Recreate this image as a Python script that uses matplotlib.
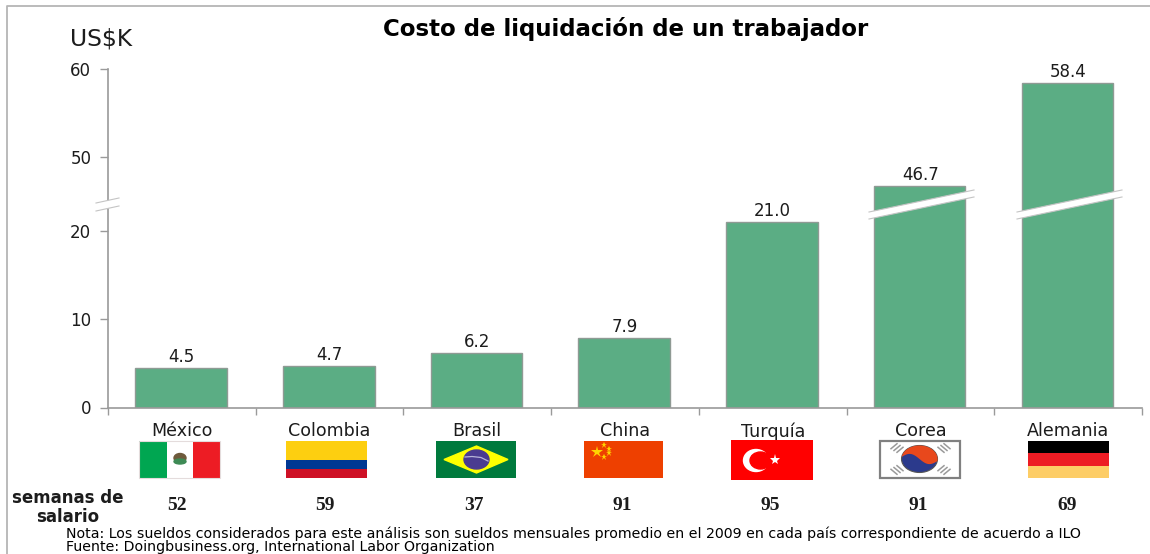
import numpy as np
import matplotlib
matplotlib.use('Agg')
import matplotlib.pyplot as plt
from matplotlib.patches import Rectangle, Polygon, Ellipse

plt.rcParams['font.family'] = ['DejaVu Sans']

# data
paises = ['México', 'Colombia', 'Brasil', 'China', 'Turquía', 'Corea', 'Alemania']
costo = [4.5, 4.7, 6.2, 7.9, 21.0, 46.7, 58.4]
semanas = [52, 59, 37, 91, 95, 91, 69]
y_ticks = [0, 10, 20, 50, 60]

W, H = 1150, 554
GREEN = '#5bad84'
GRAY = '#9a9a9a'
TXT = '#1c1c1c'


# y axis is cut: same slope below and above, the stretch in between collapses
def fwd(y):
    return np.interp(y, [0, 21.5, 43.5, 60], [0, 21.5, 21.9, 38.4])


def inv(y):
    return np.interp(y, [0, 21.5, 21.9, 38.4], [0, 21.5, 43.5, 60])


fig = plt.figure(figsize=(W / 100, H / 100), dpi=100, facecolor='white')
ax = fig.add_axes([108 / W, 1 - 407.5 / H, (1142 - 108) / W, (407.5 - 69) / H])
ax.set_yscale('function', functions=(fwd, inv))
ax.set_ylim(0, 60)
ax.set_xlim(-0.5, 6.5)

x = np.arange(len(paises))
bars = ax.bar(x - 0.005, costo, width=0.62, color=GREEN, edgecolor='#8f9a94', linewidth=1.0, zorder=2)
for xi, v in zip(x, costo):
    ax.annotate('%.1f' % v, (xi, v), xytext=(0, 1.5), textcoords='offset points',
                ha='center', va='bottom', fontsize=12, color=TXT)

for s in ['top', 'right']:
    ax.spines[s].set_visible(False)
for s in ['left', 'bottom']:
    ax.spines[s].set_color(GRAY)
    ax.spines[s].set_linewidth(1.2)
ax.set_yticks(y_ticks)
ax.set_yticklabels([str(t) for t in y_ticks], fontsize=12, color=TXT)
ax.yaxis.set_minor_locator(matplotlib.ticker.NullLocator())
ax.tick_params(axis='y', length=6, width=1, color=GRAY, pad=6)
# boundaries get ticks, centres get the names
ax.set_xticks(np.arange(-0.5, 7, 1))
ax.set_xticklabels([])
ax.set_xticks(x, minor=True)
ax.set_xticklabels(paises, minor=True, fontsize=12.6, color=TXT)
ax.tick_params(axis='x', which='major', length=5, width=1, color=GRAY)
ax.tick_params(axis='x', which='minor', length=0, pad=10.5)

# overlay in image pixels for breaks, flags and notes
ov = fig.add_axes([0, 0, 1, 1], zorder=5)
ov.set_xlim(0, W)
ov.set_ylim(H, 0)
ov.axis('off')
ov.patch.set_alpha(0)

# frame
ov.plot([6.5, 6.5, 1150], [554, 6, 6], color='#b5b5b5', lw=1.3)


# bar cuts
def corte(x0, x1, y0, y1, gap=7):
    ov.add_patch(Polygon([(x0, y0), (x1, y1), (x1, y1 + gap), (x0, y0 + gap)], color='white', lw=0, zorder=3))
    ov.plot([x0, x1], [y0, y1], color='#c4c4c4', lw=0.8, zorder=4)
    ov.plot([x0, x1], [y0 + gap, y1 + gap], color='#c4c4c4', lw=0.8, zorder=4)


corte(869, 974, 212, 190)
corte(1017, 1122, 212, 190)
corte(96, 119, 203, 198, gap=8)


def flag_box(x0, y0, w, h, c):
    ov.add_patch(Rectangle((x0, y0), w, h, facecolor=c, edgecolor='none', zorder=3))


# México
flag_box(139, 441, 28, 37, '#00a651')
flag_box(167, 441, 26, 37, 'white')
flag_box(193, 441, 27, 37, '#ed1c24')
ov.add_patch(Ellipse((180, 458), 12, 9, color='#6e5a3c', zorder=4))
ov.add_patch(Ellipse((180, 461.5), 12, 5, color='#3d8a55', zorder=4))
ov.add_patch(Rectangle((139, 441), 81, 37, fill=False, edgecolor='#e4dcdc', lw=0.8, zorder=4))
# Colombia
flag_box(286, 441, 81, 18.5, '#fdcf10')
flag_box(286, 459.5, 81, 9.5, '#003893')
flag_box(286, 469, 81, 9, '#ce1126')
# Brasil
flag_box(436, 441, 80, 37, '#007a3d')
ov.add_patch(Polygon([(444, 459.5), (476.5, 446), (508, 459.5), (476.5, 473)], color='#ffff00', zorder=4))
ov.add_patch(Ellipse((476.5, 459.5), 25, 19, color='#4a3b90', zorder=5))
ov.plot([465, 472, 481, 488], [457, 456.5, 457.5, 461], color='#b8b4d8', lw=0.9, zorder=6)
# China
flag_box(584, 441, 79, 37, '#ee4000')
ov.plot([596.5], [452], marker='*', ms=9, color='#ffd400', mew=0, zorder=4)
ov.plot([604, 609, 609, 604], [445, 449, 453, 457], ls='none', marker='*', ms=4.5, color='#ffd400', mew=0, zorder=4)
# Turquía
flag_box(731, 440, 82, 40, '#ff0000')
ov.add_patch(Ellipse((756, 460.5), 25, 22, color='white', zorder=4))
ov.add_patch(Ellipse((760.5, 460.5), 21, 17, color='#ff0000', zorder=5))
ov.plot([775], [460], marker='*', ms=8, color='white', mew=0, zorder=6)
# Corea
ov.add_patch(Rectangle((880, 441), 80, 37, facecolor='white', edgecolor='#808080', lw=1.6, zorder=3))
t = np.linspace(-1, 1, 60)
cx, cy, a, b = 919.5, 459, 18, 13.5
ov.add_patch(Ellipse((cx, cy), 2 * a, 2 * b, facecolor='#2b3a8c', edgecolor='#555555', lw=0.8, zorder=4))
arco = np.linspace(np.pi, 0, 60)
s_x = cx + a * t[::-1]
s_y = cy + 0.3 * b * np.sin(np.pi * t[::-1]) + 0.15 * b * t[::-1]
ov.add_patch(Polygon(np.column_stack([np.r_[cx + a * np.cos(arco), s_x],
                                      np.r_[cy - b * np.sin(arco), s_y]]),
                     facecolor='#e8481c', edgecolor='none', zorder=5))
for kx, ky, sgn in [(897, 448, 1), (944, 448, -1), (897, 470, -1), (944, 470, 1)]:
    for off in (-3, 0, 3):
        ov.plot([kx + off - 3 * sgn, kx + off + 3 * sgn], [ky + off * sgn * 0.6 + 2.5, ky + off * sgn * 0.6 - 2.5],
                color='#9a9a9a', lw=1.1, zorder=4)
# Alemania
flag_box(1028, 441, 81, 12, '#000000')
flag_box(1028, 453, 81, 13, '#ed1c24')
flag_box(1028, 466, 81, 12, '#fdcd66')

# texts
ov.text(625.5, 29, 'Costo de liquidación de un trabajador', ha='center', va='center',
        fontsize=16.5, fontweight='bold', color='black')
ov.text(70, 39, 'US$K', ha='left', va='center', fontsize=16.8, color=TXT)
ov.text(68, 498, 'semanas de', ha='center', va='center', fontsize=12, fontweight='bold', color=TXT)
ov.text(68, 517, 'salario', ha='center', va='center', fontsize=12, fontweight='bold', color=TXT)
for i, s in enumerate(semanas):
    ov.text(177 + 148.33 * i, 506, str(s), ha='center', va='center', fontsize=14,
            fontweight='bold', family='Liberation Serif', color=TXT)
ov.text(66, 533.5, 'Nota: Los sueldos considerados para este análisis son sueldos mensuales promedio en el 2009 en cada país correspondiente de acuerdo a ILO',
        ha='left', va='center', fontsize=10.15, color='black')
ov.text(66, 547, 'Fuente: Doingbusiness.org, International Labor Organization',
        ha='left', va='center', fontsize=10.15, color='black')

fig.savefig('out.png', dpi=100)
